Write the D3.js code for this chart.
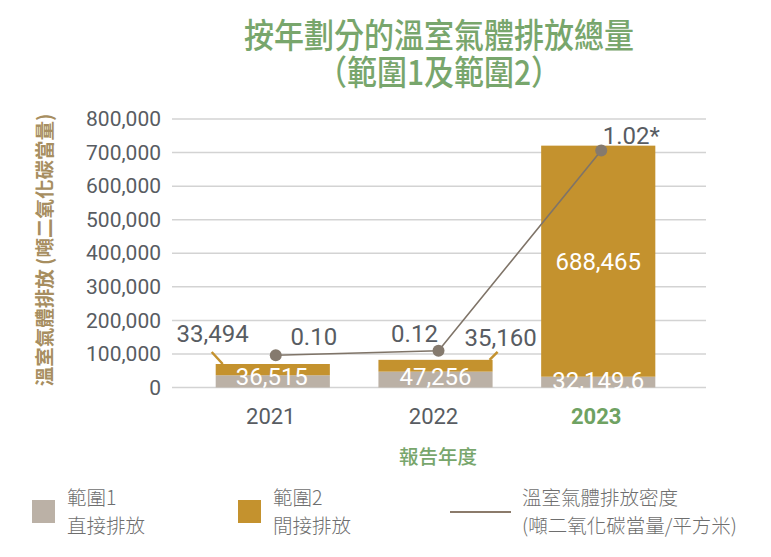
<!DOCTYPE html>
<html><head><meta charset="utf-8">
<script src="https://cdn.jsdelivr.net/npm/d3@7/dist/d3.min.js"></script>
<style>
html,body{margin:0;padding:0;background:#fff;}
svg{display:block;}
</style></head>
<body>
<svg id="chart" width="771" height="557"></svg>
<script>
const years = ["2021","2022","2023"];
const scope1 = [36515, 47256, 32149.6];
const scope2 = [33494, 35160, 688465];
const intensity = [0.10, 0.12, 1.02];
const scope1Labels = ["36,515","47,256","32,149.6"];
const scope2Labels = ["33,494","35,160","688,465"];
const intensityLabels = ["0.10","0.12","1.02*"];
const yTicks = [0,100000,200000,300000,400000,500000,600000,700000,800000];

const CJK = "'Noto Sans CJK TC','Noto Sans CJK SC',sans-serif";
const NUM = "Roboto,'Noto Sans',sans-serif";
const C1 = "#bbb1a6", C2 = "#c4922e", LINE = "#7f7468", GREEN = "#78a66c", TXT = "#585c62";

const svg = d3.select("#chart");
const x = d3.scaleBand().domain(years).range([172,706]).paddingInner(0.2985).paddingOuter(0.29).align(0.463);
const y = d3.scaleLinear().domain([0,800000]).range([387.5,119]);
const yI = d3.scaleLinear().domain([0,1.02]).range([377.5,150.5]);

// title
svg.append("text").attr("transform","translate(439,48) scale(1,1.14)").attr("text-anchor","middle")
  .attr("font-family",CJK).attr("font-size",30).attr("font-weight",500).attr("fill",GREEN)
  .text("按年劃分的溫室氣體排放總量");
svg.append("text").attr("transform","translate(439,85) scale(1,1.14)").attr("text-anchor","middle")
  .attr("font-family",CJK).attr("font-size",30).attr("font-weight",500).attr("fill",GREEN)
  .text("（範圍1及範圍2）");

// gridlines + y axis
const yAxis = d3.axisLeft(y).tickValues(yTicks).tickSize(0).tickPadding(11)
  .tickFormat(d => d3.format(",")(d));
const gy = svg.append("g").attr("transform","translate(172,0)").call(yAxis);
gy.select(".domain").remove();
gy.selectAll("text").attr("font-family",NUM).attr("font-size",21).attr("fill",TXT);
svg.append("g").selectAll("line").data(yTicks).join("line")
  .attr("x1",172).attr("x2",706).attr("y1",d=>y(d)).attr("y2",d=>y(d))
  .attr("stroke","#d3d3d3").attr("stroke-width",1.5);

// y title
svg.append("text").attr("transform","translate(52,250) rotate(-90)").attr("text-anchor","middle")
  .attr("font-family",CJK).attr("font-size",19.5).attr("font-weight",700).attr("fill","#a78e60")
  .text("溫室氣體排放 (噸二氧化碳當量)");

// bars
const idx = d3.range(years.length);
svg.append("g").selectAll("rect").data(idx).join("rect")
  .attr("x",i=>x(years[i])).attr("width",x.bandwidth())
  .attr("y",i=>y(scope1[i])).attr("height",i=>y(0)-y(scope1[i])).attr("fill",C1);
svg.append("g").selectAll("rect").data(idx).join("rect")
  .attr("x",i=>x(years[i])).attr("width",x.bandwidth())
  .attr("y",i=>y(scope1[i]+scope2[i])).attr("height",i=>y(scope1[i])-y(scope1[i]+scope2[i])).attr("fill",C2);

// leader lines for small scope2 labels
const t0 = y(scope1[0]+scope2[0]);
svg.append("line").attr("x1",x(years[0])-4).attr("y1",t0-12).attr("x2",x(years[0])+7).attr("y2",t0)
  .attr("stroke",C2).attr("stroke-width",2.5);
const t1 = y(scope1[1]+scope2[1]);
const r1 = x(years[1])+x.bandwidth();
svg.append("line").attr("x1",r1+5).attr("y1",t1-8).attr("x2",r1-3).attr("y2",t1)
  .attr("stroke",C2).attr("stroke-width",2.5);

// intensity line
const cx = i => x(years[i]) + x.bandwidth()/2 + 3;
svg.append("path").datum(idx)
  .attr("d",d3.line().x(i=>cx(i)).y(i=>yI(intensity[i])))
  .attr("fill","none").attr("stroke",LINE).attr("stroke-width",1.6);
svg.append("g").selectAll("circle").data(idx).join("circle")
  .attr("cx",i=>cx(i)).attr("cy",i=>yI(intensity[i])).attr("r",6).attr("fill","#857a6e");

// labels
const lab = (tx,ty,txt,fill,anchor) => svg.append("text").attr("x",tx).attr("y",ty)
  .attr("text-anchor",anchor||"middle").attr("font-family",NUM).attr("font-size",24)
  .attr("fill",fill).text(txt);
const mid = i => x(years[i]) + x.bandwidth()/2;
// scope1 labels (white, inside bottom)
lab(mid(0)-1, y(0)-3, scope1Labels[0], "#fff");
lab(mid(1), y(0)-3, scope1Labels[1], "#fff");
lab(mid(2), y(0)+1, scope1Labels[2], "#fff");
// scope2 labels
lab(x(years[0])-3, t0-22, scope2Labels[0], TXT);
lab(r1+8, t1-14, scope2Labels[1], TXT);
lab(mid(2), y(scope1[2]+scope2[2]/2)+9, scope2Labels[2], "#fff");
// intensity labels
lab(cx(0)+38, yI(intensity[0])-10, intensityLabels[0], TXT);
lab(cx(1)-24, yI(intensity[1])-9, intensityLabels[1], TXT);
lab(cx(2)+30, yI(intensity[2])-7, intensityLabels[2], TXT);

// x axis labels
svg.append("g").selectAll("text").data(years).join("text")
  .attr("x",d=>x(d)+x.bandwidth()/2-2).attr("y",424).attr("text-anchor","middle")
  .attr("font-family",NUM).attr("font-size",22)
  .attr("font-weight",d=>d==="2023"?700:400)
  .attr("fill",d=>d==="2023"?"#6fa262":TXT).text(d=>d);
svg.append("text").attr("x",438).attr("y",464).attr("text-anchor","middle")
  .attr("font-family",CJK).attr("font-size",19.5).attr("font-weight",500).attr("fill",GREEN)
  .text("報告年度");

// legend
const LG = "#6e6e6e";
const leg = svg.append("g").attr("font-family",CJK).attr("font-size",19.5).attr("font-weight",300).attr("fill",LG);
leg.append("rect").attr("x",32).attr("y",500).attr("width",23).attr("height",23).attr("fill",C1);
leg.append("text").attr("x",67).attr("y",505).text("範圍1");
leg.append("text").attr("x",67).attr("y",533).text("直接排放");
leg.append("rect").attr("x",238).attr("y",500).attr("width",23).attr("height",23).attr("fill",C2);
leg.append("text").attr("x",273).attr("y",505).text("範圍2");
leg.append("text").attr("x",273).attr("y",533).text("間接排放");
leg.append("line").attr("x1",450).attr("x2",511).attr("y1",512).attr("y2",512).attr("stroke","#8b7b6b").attr("stroke-width",2);
leg.append("text").attr("x",522).attr("y",505).text("溫室氣體排放密度");
leg.append("text").attr("x",522).attr("y",533).text("(噸二氧化碳當量/平方米)");
</script>
</body></html>
